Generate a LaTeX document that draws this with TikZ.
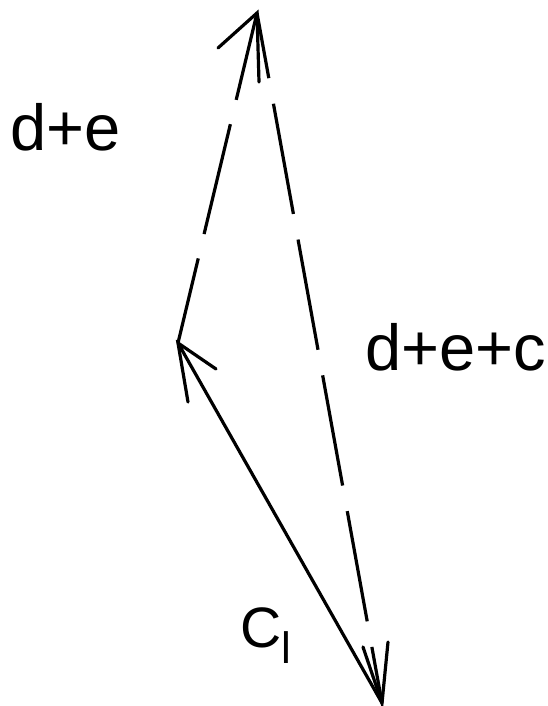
\documentclass[tikz,border=0pt]{standalone}
\usepackage{fontspec}
\setmainfont{Liberation Sans}
\begin{document}
\begin{tikzpicture}[x=1pt,y=-1pt,
  vec/.style={line width=3.2pt,black},
  barb/.style={line width=3.2pt,black,line cap=round},
  lbl/.style={inner sep=0pt,anchor=base west,font=\fontsize{65}{72}\selectfont}]
\useasboundingbox (0,0) rectangle (548,706);
% main points
\coordinate (T) at (257,13);
\coordinate (M) at (178,343);
\coordinate (B) at (382,703);
% arrow barb ends
\coordinate (t1) at (218,48);
\coordinate (t2) at (259,82);
\coordinate (m1) at (216,369);
\coordinate (m2) at (188,402);
\coordinate (b1) at (388,642);
\coordinate (b2) at (363,647);
% vectors
\draw[vec,dash pattern=on 113pt off 25pt,dash phase=26pt] (M) -- (T);
\draw[vec,dash pattern=on 112pt off 26pt,dash phase=55pt] (B) -- (T);
\draw[vec] (B) -- (M);
% arrowheads
\draw[barb] (t1) -- (T) -- (t2);
\draw[barb] (m1) -- (M) -- (m2);
\draw[barb] (b1) -- (B) -- (b2);
% labels
\node[lbl] (de) at (10,150) {d+e};
\node[lbl] (dec) at (365,370) {d+e+c};
\node[lbl,font=\fontsize{57}{62}\selectfont] (cl) at (240,647) {C};
\node[lbl,font=\fontsize{44}{50}\selectfont] (cls) at (281,663) {l};
\end{tikzpicture}
\end{document}
